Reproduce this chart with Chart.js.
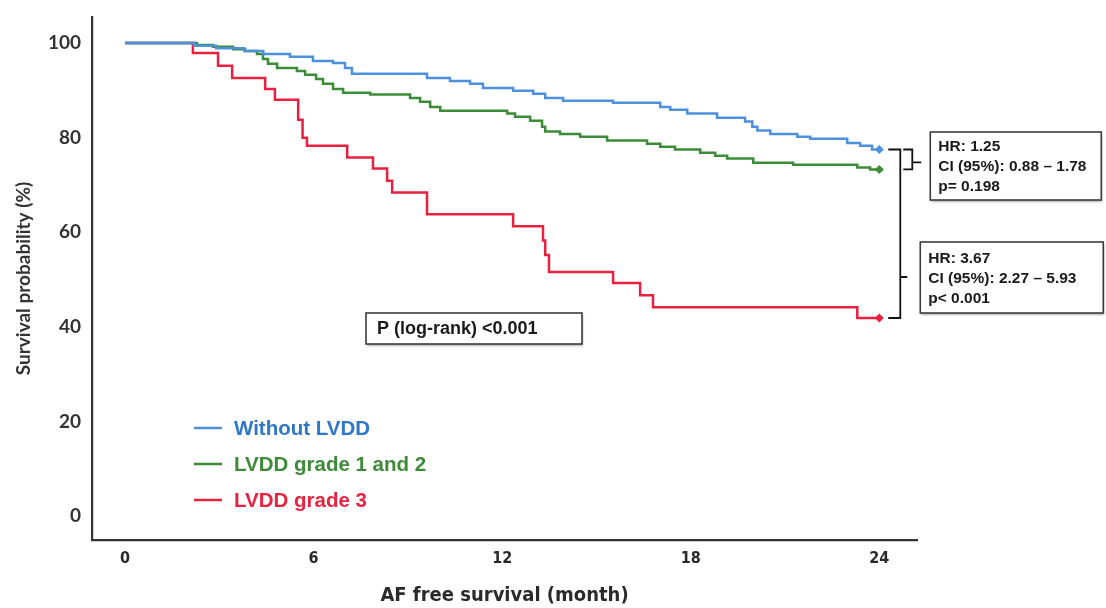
<!DOCTYPE html>
<html>
<head>
<meta charset="utf-8">
<style>
  html, body { margin: 0; padding: 0; background: #fff; }
</style>
<script src="https://cdn.jsdelivr.net/npm/chart.js@4.4.1/dist/chart.umd.min.js"></script>
</head>
<body>
<canvas id="km-chart" width="1106" height="608"></canvas>
<script>
const monthTicks = [0, 6, 12, 18, 24];
const percentTicks = [0, 20, 40, 60, 80, 100];

const groupNames = ['Without LVDD', 'LVDD grade 1 and 2', 'LVDD grade 3'];
const groupColors = ['#4d91de', '#3b8c36', '#e8213f'];
const legendTextColors = ['#2f78c8', '#3d8a37', '#e8233f'];

// Kaplan-Meier steps: month of each drop and survival (%) right after it
const noLvddMonths = [0, 2.2, 2.9, 3.8, 4.4, 5.25, 5.98, 6.62, 7.0, 7.22, 9.61, 10.34, 10.98, 11.39, 12.35, 12.99, 13.37, 13.94, 15.53, 17.03, 17.35, 17.89, 18.84, 19.73, 19.96, 20.12, 20.53, 21.39, 21.8, 22.98, 23.39, 23.77, 24];
const noLvddSurvival = [100, 99.4, 98.9, 98.3, 97.7, 97.1, 96.2, 95.8, 94.7, 93.5, 92.6, 92.0, 91.4, 90.5, 89.9, 89.3, 88.4, 87.8, 87.4, 86.5, 85.9, 85.1, 84.2, 83.4, 82.3, 81.5, 80.8, 80.2, 79.8, 78.9, 78.3, 77.5, 77.5];

const grade12Months = [0, 2.29, 2.8, 3.44, 3.82, 4.2, 4.39, 4.55, 4.84, 5.47, 5.73, 6.08, 6.3, 6.62, 6.94, 7.8, 9.07, 9.39, 9.71, 10.03, 12.16, 12.41, 12.89, 13.27, 13.37, 13.84, 14.48, 15.34, 16.61, 17.03, 17.5, 18.3, 18.78, 19.16, 19.99, 21.26, 23.3, 23.71, 24];
const grade12Survival = [100, 99.6, 99.2, 98.7, 98.3, 97.7, 96.6, 95.6, 94.7, 94.1, 93.3, 92.4, 91.4, 90.3, 89.5, 89.1, 88.4, 87.6, 86.5, 85.7, 85.1, 84.4, 83.6, 82.3, 81.3, 80.8, 80.2, 79.4, 78.7, 78.1, 77.5, 76.8, 76.2, 75.6, 74.7, 74.3, 73.7, 73.3, 73.3];

const grade3Months = [0, 2.16, 2.96, 3.41, 4.46, 4.77, 5.51, 5.65, 5.79, 7.07, 7.89, 8.34, 8.5, 9.61, 12.35, 13.3, 13.37, 13.49, 15.53, 16.39, 16.8, 23.3, 24];
const grade3Survival = [100, 97.9, 95.2, 92.6, 90.3, 88.0, 83.8, 80.0, 78.3, 75.8, 73.5, 70.9, 68.4, 63.8, 61.3, 58.3, 55.2, 51.6, 49.3, 46.7, 44.2, 41.9, 41.9];

const logRankText = 'P (log-rank) <0.001';
const mildVsNoneLines = ['HR: 1.25', 'CI (95%): 0.88 \u2013 1.78', 'p= 0.198'];
const severeVsNoneLines = ['HR: 3.67', 'CI (95%): 2.27 \u2013 5.93', 'p< 0.001'];

const toPoints = (months, surv) => months.map((m, i) => ({ x: m, y: surv[i] }));
const curves = [
    toPoints(noLvddMonths, noLvddSurvival),
    toPoints(grade12Months, grade12Survival),
    toPoints(grade3Months, grade3Survival)
];

function boxWithText(ctx, left, top, width, height, lines, font, lineGap, padX) {
    ctx.save();
    ctx.shadowColor = 'rgba(0,0,0,0.3)';
    ctx.shadowBlur = 2;
    ctx.shadowOffsetX = 1;
    ctx.shadowOffsetY = 1.5;
    ctx.fillStyle = '#fff';
    ctx.fillRect(left, top, width, height);
    ctx.restore();
    ctx.save();
    ctx.strokeStyle = '#3c3c3c';
    ctx.lineWidth = 1.6;
    ctx.strokeRect(left, top, width, height);
    ctx.fillStyle = '#1a1a1a';
    ctx.font = font;
    ctx.textBaseline = 'middle';
    const first = top + height / 2 - (lines.length - 1) * lineGap / 2;
    lines.forEach((t, i) => ctx.fillText(t, left + padX, first + i * lineGap + 1));
    ctx.restore();
}

// legend, brackets and the test result boxes
const kmNotes = {
    id: 'kmNotes',
    afterDatasetsDraw(chart) {
        const { ctx, chartArea, scales: { x, y } } = chart;

        // legend in the lower left of the plot
        ctx.save();
        ctx.font = 'bold 20.5px "Liberation Sans", Arial, sans-serif';
        ctx.textBaseline = 'middle';
        chart.data.datasets.forEach((ds, i) => {
            const rowY = chartArea.bottom - 112 + i * 36;
            const lineX = chartArea.left + 102;
            ctx.strokeStyle = ds.borderColor;
            ctx.lineWidth = 2.5;
            ctx.beginPath();
            ctx.moveTo(lineX, rowY);
            ctx.lineTo(lineX + 28, rowY);
            ctx.stroke();
            ctx.fillStyle = legendTextColors[i];
            ctx.fillText(ds.label, lineX + 40, rowY + 1);
        });
        ctx.restore();

        // log-rank box
        boxWithText(ctx, chartArea.left + 274, chartArea.top + 296, 216, 31, [logRankText],
            'bold 18px "Liberation Sans", Arial, sans-serif', 0, 11);

        // brackets joining the curve ends
        const endX = x.getPixelForValue(monthTicks[monthTicks.length - 1]);
        const ends = chart.data.datasets.map(ds => y.getPixelForValue(ds.data[ds.data.length - 1].y));
        const [blueY, greenY, redY] = ends;
        ctx.save();
        ctx.strokeStyle = '#111';
        ctx.lineWidth = 1.8;
        const bigX = endX + 21;
        const smallX = endX + 33;
        const severeMid = chartArea.top + 260;
        ctx.beginPath();
        ctx.moveTo(endX + 9, blueY);
        ctx.lineTo(bigX, blueY);
        ctx.lineTo(bigX, redY);
        ctx.lineTo(endX + 9, redY);
        ctx.moveTo(bigX, severeMid);
        ctx.lineTo(bigX + 7, severeMid);
        ctx.moveTo(endX + 24, blueY);
        ctx.lineTo(smallX, blueY);
        ctx.lineTo(smallX, greenY);
        ctx.lineTo(endX + 24, greenY);
        const mildMid = (blueY + greenY) / 2 + 3;
        ctx.moveTo(smallX, mildMid);
        ctx.lineTo(smallX + 9, mildMid);
        ctx.stroke();
        ctx.restore();

        const statFont = 'bold 15.5px "Liberation Sans", Arial, sans-serif';
        boxWithText(ctx, endX + 51, chartArea.top + 115, 171, 68, mildVsNoneLines, statFont, 20, 8);
        boxWithText(ctx, endX + 41, chartArea.top + 225, 183, 71, severeVsNoneLines, statFont, 20, 8);
    }
};

const datasets = curves.map((pts, i) => ({
    label: groupNames[i],
    data: pts,
    borderColor: groupColors[i],
    backgroundColor: groupColors[i],
    borderWidth: 2.5,
    stepped: 'before',
    fill: false,
    pointStyle: 'rectRot',
    pointRadius: c => (c.dataIndex === pts.length - 1 ? 4.5 : 0),
    pointBorderWidth: 0
}));

const ctx = document.getElementById('km-chart').getContext('2d');

const kmChart = new Chart(ctx, {
    type: 'line',
    data: { datasets: datasets },
    options: {
        responsive: false,
        animation: false,
        devicePixelRatio: 1,
        layout: { padding: { left: 0, right: 189, top: 17, bottom: 0 } },
        plugins: {
            legend: { display: false },
            tooltip: { enabled: false }
        },
        scales: {
            x: {
                type: 'linear',
                min: -1.05,
                max: 25.2,
                afterBuildTicks: s => { s.ticks = monthTicks.map(v => ({ value: v })); },
                afterFit: s => { s.height = 68; s.paddingLeft = 0; s.paddingRight = 0; },
                grid: { display: false, drawTicks: false },
                border: { color: '#333', width: 2.2 },
                ticks: {
                    padding: 9,
                    color: '#2a2a2a',
                    font: { family: '"DejaVu Sans Condensed", "DejaVu Sans", sans-serif', size: 16, weight: 'bold' }
                },
                title: {
                    display: true,
                    text: 'AF free survival (month)',
                    color: '#2a2a2a',
                    padding: { top: 0, bottom: 0 },
                    font: { family: '"DejaVu Sans Condensed", "DejaVu Sans", sans-serif', size: 20, weight: 'bold' }
                }
            },
            y: {
                min: -5,
                max: 105.5,
                afterBuildTicks: s => { s.ticks = percentTicks.map(v => ({ value: v })); },
                // keep the plot top where the layout padding puts it
                afterFit: s => { s.width = 92; s.paddingTop = 0; s.paddingBottom = 0; },
                grid: { display: false, drawTicks: false },
                border: { color: '#333', width: 2.2 },
                ticks: {
                    padding: 11,
                    color: '#333',
                    font: { family: 'Lato, sans-serif', size: 19, weight: 'bold' }
                },
                title: {
                    display: true,
                    text: 'Survival probability (%)',
                    color: '#333',
                    padding: { top: 12, bottom: 0 },
                    font: { family: 'Lato, sans-serif', size: 19, weight: 'bold' }
                }
            }
        }
    },
    plugins: [kmNotes]
});
</script>
</body>
</html>
